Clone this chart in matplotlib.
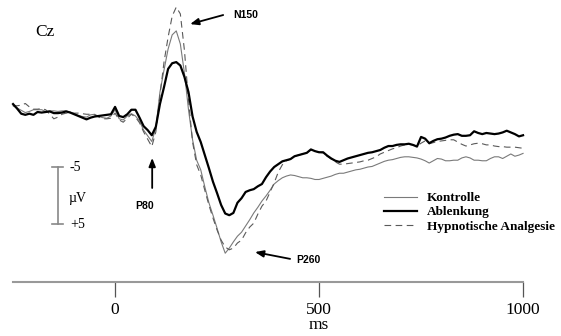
"""ERP-Kurven an Cz: Kontrolle, Ablenkung, Hypnotische Analgesie"""

import matplotlib

matplotlib.use("Agg")
import matplotlib.pyplot as plt
import numpy as np

plt.rcParams["font.family"] = ["Liberation Serif", "DejaVu Serif"]

# Zeitachse (ms) und Amplituden (µV, negativ nach oben)
times = np.arange(-250, 1001, 10)

kontrolle = [
    -1.1, -0.7, -0.3, 0.1, -0.1, -0.4, -0.4, -0.4, -0.1, -0.2,
    -0.2, -0.1, -0.2, -0.2, 0.0, 0.3, 0.6, 0.8, 0.9, 0.5,
    0.4, 0.8, 1.0, 1.1, 0.7, -0.4, 1.2, 1.4, 0.7, 0.3,
    0.7, 1.6, 3.2, 4.2, 5.2, 2.8, -3.5, -7.4, -11.1, -13.6,
    -14.3, -12.0, -6.9, -0.4, 4.9, 8.5, 10.2, 13.2, 16.0, 18.2,
    20.5, 22.9, 24.9, 24.0, 22.9, 21.9, 21.2, 20.1, 19.0, 17.8,
    16.8, 15.7, 14.8, 13.8, 12.7, 12.1, 11.6, 11.3, 11.1, 11.2,
    11.4, 11.6, 11.6, 11.7, 11.9, 11.9, 11.7, 11.5, 11.3, 11.0,
    10.8, 10.8, 10.6, 10.4, 10.2, 10.1, 9.9, 9.7, 9.6, 9.3,
    9.0, 8.7, 8.5, 8.4, 8.2, 8.0, 7.9, 7.9, 8.0, 8.1,
    8.3, 8.6, 9.0, 8.6, 8.2, 8.3, 8.6, 8.6, 8.5, 8.5,
    8.1, 7.9, 8.1, 8.5, 8.5, 8.6, 8.6, 8.2, 7.9, 7.9,
    8.2, 7.8, 7.4, 7.8, 7.6, 7.3,
]

ablenkung = [
    -1.4, -0.6, 0.3, 0.5, 0.3, 0.5, 0.0, 0.1, 0.0, -0.1,
    0.2, 0.2, 0.1, -0.1, 0.1, 0.4, 0.7, 1.0, 1.3, 1.0,
    0.8, 0.7, 0.6, 0.5, 0.4, -0.9, 0.7, 0.9, 0.4, -0.4,
    -0.4, 1.0, 2.5, 3.2, 4.1, 2.6, -1.4, -4.4, -7.6, -8.6,
    -8.8, -8.2, -6.2, -3.5, 0.8, 3.5, 5.3, 7.6, 9.9, 12.3,
    14.3, 16.4, 17.9, 18.2, 17.8, 16.0, 15.2, 14.1, 13.8, 13.6,
    13.1, 12.7, 11.5, 10.5, 9.7, 9.2, 8.7, 8.5, 8.3, 7.8,
    7.6, 7.4, 7.2, 6.6, 6.9, 7.1, 7.1, 7.7, 8.2, 8.6,
    8.8, 8.5, 8.2, 8.0, 7.8, 7.6, 7.4, 7.2, 7.1, 6.9,
    6.7, 6.3, 6.0, 6.0, 5.8, 5.7, 5.7, 5.6, 5.8, 6.1,
    4.4, 4.7, 5.5, 5.1, 4.8, 4.7, 4.5, 4.2, 4.0, 3.9,
    4.2, 4.2, 4.1, 3.4, 3.7, 3.9, 3.7, 3.8, 3.9, 3.8,
    3.6, 3.3, 3.6, 3.9, 4.3, 4.1,
]

hypnose = [
    -1.1, -1.1, -1.2, -1.5, -0.9, -0.5, -0.5, -0.6, -0.4, 0.4,
    1.2, 0.9, 0.4, 0.2, 0.2, 0.2, 0.2, 0.3, 0.4, 0.4,
    0.5, 0.9, 1.2, 1.2, 1.1, 0.2, 1.4, 1.8, 1.1, 0.4,
    0.9, 1.9, 3.5, 4.8, 6.1, 3.5, -3.0, -8.8, -13.2, -16.9,
    -18.5, -17.3, -10.9, -2.1, 5.3, 9.3, 11.1, 13.8, 16.4, 18.7,
    20.8, 22.6, 23.8, 24.3, 24.0, 23.1, 22.6, 21.3, 20.3, 19.6,
    18.0, 16.6, 15.7, 14.1, 12.5, 10.6, 9.3, 8.6, 8.3, 7.8,
    7.6, 7.4, 7.2, 6.7, 6.9, 7.1, 7.2, 7.8, 8.3, 8.8,
    9.2, 9.2, 9.1, 9.0, 8.9, 8.8, 8.6, 8.5, 8.2, 7.9,
    7.4, 7.1, 6.8, 6.5, 6.3, 6.0, 5.8, 5.7, 5.8, 6.0,
    5.5, 5.1, 5.6, 5.4, 5.2, 5.1, 5.0, 4.9, 4.9, 5.3,
    5.7, 6.0, 5.8, 5.6, 5.5, 5.6, 5.8, 5.8, 6.0, 6.1,
    6.1, 6.2, 6.2, 6.2, 6.3, 6.4,
]

x_ticks = [0, 500, 1000]
scale_labels = ["-5", "+5"]

fig = plt.figure(figsize=(5.61, 3.36), dpi=100)
ax = fig.add_axes([0, 0, 1, 1])

ax.plot(times, kontrolle, color="#7a7a7a", lw=0.8, label="Kontrolle", zorder=2)
ax.plot(times, ablenkung, color="black", lw=1.6, label="Ablenkung", zorder=3)
ax.plot(times, hypnose, color="#5a5a5a", lw=0.8, ls=(0, (6, 4)),
        label="Hypnotische Analgesie", zorder=2)

ax.set_xlim(-282, 1093)
ax.set_ylim(39.5, -19.75)

# Zeitachse
for side in ("left", "right", "top"):
    ax.spines[side].set_visible(False)
ax.spines["bottom"].set_position(("data", 30))
ax.spines["bottom"].set_bounds(-250, 1000)
ax.spines["bottom"].set_color("#999999")
ax.spines["bottom"].set_linewidth(1.5)
ax.set_xticks(x_ticks)
ax.set_xticklabels([str(t) for t in x_ticks])
ax.tick_params(axis="x", direction="out", length=10.8, width=0.9,
               color="#555555", labelsize=12.5, pad=3.5)
ax.set_yticks([])
ax.text(500, 38.3, "ms", ha="center", va="baseline", fontsize=12.5)

# Skalierungsbalken
ax.plot([-140, -140], [9.75, 19.75], color="#888888", lw=1.2)
for v, lab in zip([9.75, 19.75], scale_labels):
    ax.plot([-154, -127], [v, v], color="#888888", lw=1.2)
    ax.text(-111, v, lab, ha="left", va="center", fontsize=10)
ax.text(-115, 15.2, "µV", ha="left", va="center", fontsize=10)

ax.text(-196, -14.1, "Cz", ha="left", va="center", fontsize=12.5)

# Komponenten
sans_bold = dict(family=["Liberation Sans", "DejaVu Sans"], weight="bold", fontsize=7.5)
arrow = dict(arrowstyle="-|>,head_length=0.5,head_width=0.2", color="black",
             lw=1.3, shrinkA=0, shrinkB=0)
ax.text(289, -17.1, "N150", ha="left", va="center", **sans_bold)
ax.annotate("", xy=(184, -15.5), xytext=(265, -17.1), arrowprops=arrow)
ax.text(49, 16.6, "P80", ha="left", va="center", **sans_bold)
ax.annotate("", xy=(91, 8.1), xytext=(91, 13.4), arrowprops=arrow)
ax.text(444, 26.1, "P260", ha="left", va="center", **sans_bold)
ax.annotate("", xy=(343, 24.7), xytext=(429, 25.9), arrowprops=arrow)

ax.legend(loc="upper left", bbox_to_anchor=(384 / 561, 1 - 192 / 336),
          frameon=False, prop=dict(family="Liberation Serif", weight="bold", size=9.5),
          handlelength=2.5, handletextpad=0.75, labelspacing=0.15,
          borderpad=0, borderaxespad=0)

fig.savefig("out.png", dpi=100)
